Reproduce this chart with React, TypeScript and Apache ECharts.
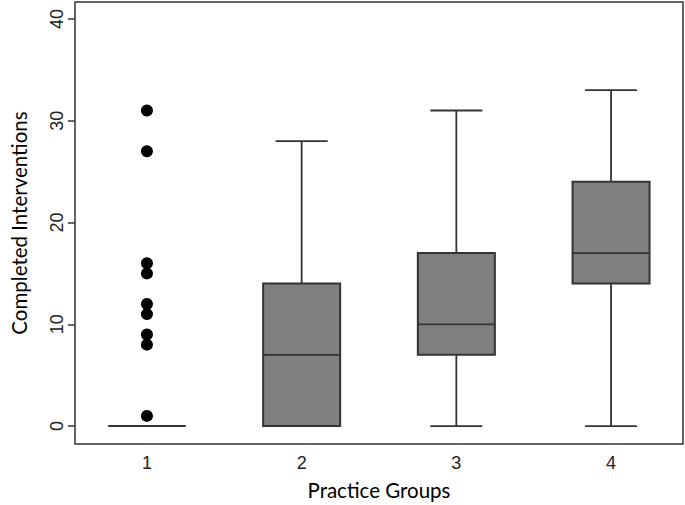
import React, { useEffect, useRef } from "react";
import * as echarts from "echarts";

const groups = [1, 2, 3, 4];
const groupLabels = ["1", "2", "3", "4"];
const mins = [0, 0, 0, 0];
const q1s = [0, 0, 7, 14];
const medians = [0, 7, 10, 17];
const q3s = [0, 14, 17, 24];
const maxs = [0, 28, 31, 33];
const outlierGroup = [1, 1, 1, 1, 1, 1, 1, 1, 1];
const outlierValues = [31, 27, 16, 15, 12, 11, 9, 8, 1];
const yTicks = [0, 10, 20, 30, 40];

export default function App() {
  const ref = useRef<HTMLDivElement>(null);
  useEffect(() => {
    if (!ref.current) return;
    const chart = echarts.init(ref.current, null, { renderer: "svg" });
    const boxData = groups.map((g, i) => [g, mins[i], q1s[i], medians[i], q3s[i], maxs[i]]);
    const outData = outlierGroup.map((g, i) => [g, outlierValues[i]]);
    const stroke = "#333333";
    chart.setOption({
      animation: false,
      backgroundColor: "#ffffff",
      grid: {
        left: 70,
        top: 2,
        right: 2,
        bottom: 59,
        show: true,
        borderColor: stroke,
        borderWidth: 1.5,
        backgroundColor: "transparent",
      },
      xAxis: {
        type: "value",
        min: 0.535,
        max: 4.465,
        name: "Practice Groups",
        nameLocation: "middle",
        nameGap: 35,
        nameTextStyle: { fontFamily: "Lato", fontSize: 20.5, color: "#000" },
        axisLine: { show: false },
        axisTick: { show: false },
        splitLine: { show: false },
        axisLabel: {
          customValues: groups,
          formatter: (v: number) => groupLabels[groups.indexOf(Math.round(v))] ?? "",
          margin: 10,
          fontFamily: "Liberation Sans",
          fontSize: 18,
          color: "#222",
        },
      },
      yAxis: {
        type: "value",
        min: -1.76,
        max: 41.66,
        name: "Completed Interventions",
        nameLocation: "middle",
        nameGap: 46,
        nameTextStyle: { fontFamily: "Lato", fontSize: 20.5, color: "#000" },
        axisLine: { show: false },
        axisTick: { show: true, customValues: yTicks, length: 7, lineStyle: { color: stroke, width: 1.5 } },
        splitLine: { show: false },
        axisLabel: {
          customValues: yTicks,
          rotate: 90,
          margin: 9,
          fontFamily: "Liberation Sans",
          fontSize: 18,
          color: "#222",
        },
      },
      series: [
        {
          type: "custom",
          data: boxData,
          encode: { x: 0, y: [1, 2, 3, 4, 5] },
          renderItem: (params: any, api: any) => {
            const x = api.value(0);
            const pMin = api.coord([x, api.value(1)]);
            const pQ1 = api.coord([x, api.value(2)]);
            const pMed = api.coord([x, api.value(3)]);
            const pQ3 = api.coord([x, api.value(4)]);
            const pMax = api.coord([x, api.value(5)]);
            const cx = pMin[0];
            const bw = 77;
            const cw = 52;
            const ls = { stroke, lineWidth: 1.8 };
            return {
              type: "group",
              children: [
                { type: "line", shape: { x1: cx, y1: pMin[1], x2: cx, y2: pQ1[1] }, style: ls },
                { type: "line", shape: { x1: cx, y1: pQ3[1], x2: cx, y2: pMax[1] }, style: ls },
                { type: "line", shape: { x1: cx - cw / 2, y1: pMin[1], x2: cx + cw / 2, y2: pMin[1] }, style: ls },
                { type: "line", shape: { x1: cx - cw / 2, y1: pMax[1], x2: cx + cw / 2, y2: pMax[1] }, style: ls },
                {
                  type: "rect",
                  shape: { x: cx - bw / 2, y: pQ3[1], width: bw, height: pQ1[1] - pQ3[1] },
                  style: { fill: "#808080", stroke, lineWidth: 2 },
                },
                { type: "line", shape: { x1: cx - bw / 2, y1: pMed[1], x2: cx + bw / 2, y2: pMed[1] }, style: ls },
              ],
            };
          },
        },
        {
          type: "scatter",
          data: outData,
          symbol: "circle",
          symbolSize: 12,
          itemStyle: { color: "#000000", opacity: 1 },
        },
      ],
    });
    return () => chart.dispose();
  }, []);
  return (
    <div
      ref={ref}
      style={{ position: "fixed", left: 0, top: 0, width: 685, height: 505 }}
    />
  );
}
